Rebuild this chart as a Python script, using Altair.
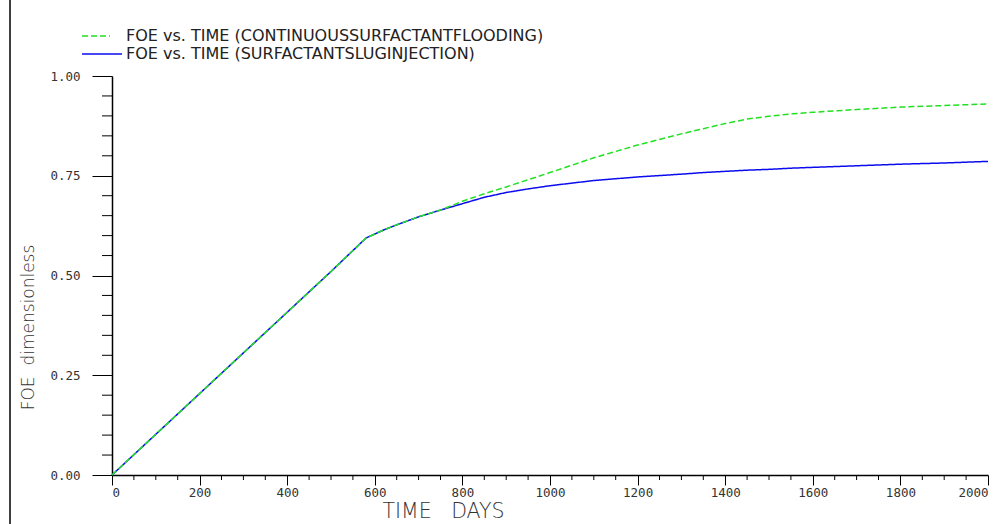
import altair as alt
import pandas as pd

# ---- data ----
time_days = [0, 100, 200, 300, 400, 500, 580, 620, 650, 700, 750, 800, 850, 900, 950,
             1000, 1100, 1200, 1300, 1350, 1400, 1450, 1500, 1550, 1600, 1700,
             1800, 1900, 2000]
foe_continuous = [0.0, 0.102, 0.204, 0.306, 0.408, 0.510, 0.594, 0.614, 0.627,
                  0.647, 0.664, 0.686, 0.705, 0.722, 0.740, 0.758, 0.795, 0.827,
                  0.855, 0.868, 0.881, 0.892, 0.899, 0.905, 0.909, 0.916, 0.922,
                  0.926, 0.930]
foe_slug = [0.0, 0.102, 0.204, 0.306, 0.408, 0.510, 0.594, 0.614, 0.627,
            0.647, 0.664, 0.680, 0.696, 0.708, 0.717, 0.725, 0.738, 0.747,
            0.754, 0.758, 0.761, 0.764, 0.766, 0.769, 0.771, 0.775, 0.779,
            0.782, 0.786]
series_names = ["FOE vs. TIME (CONTINUOUSSURFACTANTFLOODING)",
                "FOE vs. TIME (SURFACTANTSLUGINJECTION)"]
series_colors = ["#22e022", "#0b0bef"]
series_dash = [[6, 3], [1, 0]]
x_major = [0, 200, 400, 600, 800, 1000, 1200, 1400, 1600, 1800, 2000]
x_minor = [v for v in range(0, 2001, 50) if v % 200 != 0]
y_major = [0.0, 0.25, 0.5, 0.75, 1.0]
y_minor = [round(v * 0.05, 2) for v in range(21) if v % 5 != 0]
x_title = "TIME\u00a0\u00a0\u00a0DAYS"
y_title = "FOE\u00a0\u00a0dimensionless"

rows = []
for t, v in zip(time_days, foe_slug):
    rows.append({"t": t, "foe": v, "series": series_names[1]})
for t, v in zip(time_days, foe_continuous):
    rows.append({"t": t, "foe": v, "series": series_names[0]})
df = pd.DataFrame(rows)

W, H = 876, 399
LFONT = "DejaVu Sans Mono"
TFONT = "DejaVu Sans"

xscale = alt.Scale(domain=[0, 2000], nice=False, zero=False)
yscale = alt.Scale(domain=[0, 1], nice=False)

lines = alt.Chart(df).mark_line(strokeWidth=1.5, clip=False).encode(
    x=alt.X("t:Q", scale=xscale,
            axis=alt.Axis(values=x_major, format="d", title=x_title, tickSize=10,
                          tickColor="black", domainColor="black", domainWidth=1.5,
                          labelFont=LFONT, labelFontSize=12.5, labelColor="#333",
                          labelPadding=1, grid=False,
                          titleFont=TFONT, titleFontWeight=200,
                          titleFontSize=20.5, titleColor="#333",
                          titleX=331, titleY=36, titleBaseline="middle",
                          titleAnchor="middle")),
    y=alt.Y("foe:Q", scale=yscale,
            axis=alt.Axis(values=y_major, format=".2f", title=y_title,
                          tickSize=20, tickColor="black", domainColor="black",
                          domainWidth=1.5, grid=False, labelFont=LFONT,
                          labelFontSize=12.5, labelColor="#333", labelPadding=12,
                          titleFont=TFONT, titleFontWeight=200,
                          titleFontSize=17, titleColor="#333",
                          titleX=-84, titleY=251, titleBaseline="middle",
                          titleAnchor="middle")),
    color=alt.Color("series:N",
                    scale=alt.Scale(domain=series_names, range=series_colors),
                    legend=None),
    strokeDash=alt.StrokeDash("series:N",
                              scale=alt.Scale(domain=series_names, range=series_dash),
                              legend=None),
    order=alt.Order("series:N", sort="descending"),
)

xminor_df = pd.DataFrame({"t": x_minor})
xminor = alt.Chart(xminor_df).mark_rule(color="black", strokeWidth=1, clip=False).encode(
    x=alt.X("t:Q", scale=xscale),
    y=alt.value(H), y2=alt.value(H + 5))

yminor_df = pd.DataFrame({"foe": y_minor})
yminor = alt.Chart(yminor_df).mark_rule(color="black", strokeWidth=1, clip=False).encode(
    y=alt.Y("foe:Q", scale=yscale),
    x=alt.value(-10), x2=alt.value(0))

frame = alt.Chart(pd.DataFrame({"k": [0]})).mark_rule(color="black", strokeWidth=1.5).encode(
    x=alt.value(-102), y=alt.value(-76), y2=alt.value(H + 49))

# manual legend (top-left, outside the plot area)
legend_layers = []
sym_ends = [-2, 10]
for i, (name, col, dash) in enumerate(zip(series_names, series_colors, series_dash)):
    ld = pd.DataFrame({"label": [name]})
    ypos = -40 + 18 * i
    legend_layers.append(
        alt.Chart(ld).mark_rule(color=col, strokeWidth=1.5, strokeDash=dash).encode(
            x=alt.value(-30), x2=alt.value(sym_ends[i]), y=alt.value(ypos)))
    legend_layers.append(
        alt.Chart(ld).mark_text(align="left", baseline="middle", font=TFONT,
                                fontSize=16, color="#222").encode(
            text="label:N", x=alt.value(14), y=alt.value(ypos)))

chart = alt.layer(frame, xminor, yminor, lines, *legend_layers).properties(
    width=W, height=H,
    autosize=alt.AutoSizeParams(type="none"),
    padding={"left": 112, "top": 76, "right": 16, "bottom": 49},
    background="white",
).configure_view(stroke=None)

chart.save("out.html", embed_options={"renderer": "svg", "actions": False})
